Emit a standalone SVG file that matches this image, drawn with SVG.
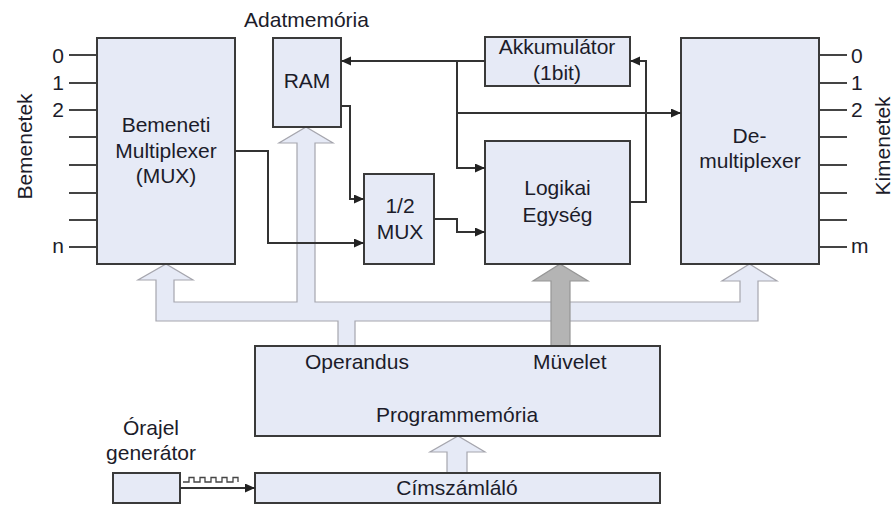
<svg xmlns="http://www.w3.org/2000/svg" width="895" height="505" viewBox="0 0 895 505">
<defs>
<style>
.box{fill:#e6eaf6;stroke:#3a3a3a;stroke-width:2}
.t{font-family:"Liberation Sans",Arial,sans-serif;font-size:21px;fill:#1c1c2a}
.c{text-anchor:middle}
.w{fill:none;stroke:#333;stroke-width:2}
.pin{stroke:#444;stroke-width:2}
.bus{fill:#e6eaf6;stroke:#a6a6ae;stroke-width:1.2;stroke-linejoin:miter}
.dbus{fill:#b4b4b4;stroke:#969696;stroke-width:1.2}
</style>
<marker id="ah" markerUnits="userSpaceOnUse" markerWidth="11" markerHeight="10" refX="10" refY="4.5" orient="auto">
<path d="M0,0 L10,4.5 L0,9 z" fill="#222"/>
</marker>
</defs>
<rect width="895" height="505" fill="#fff"/>

<g id="buses">
<path class="bus" d="M156,321 L156,280 L138,280 L166,264 L193,280 L174,280 L174,302 L297,302 L297,143 L279,143 L306,127 L333,143 L315,143 L315,302 L740,302 L740,281 L722,281 L749.5,264 L777,281 L758,281 L758,321 L355,321 L355,346 L338,346 L338,321 Z"/>
<path class="dbus" d="M551,346 L551,281 L533,281 L560,264 L588,281 L570,281 L570,346 Z"/>
<path class="bus" d="M447,473 L447,452 L430,452 L458,436 L485,452 L467,452 L467,473 Z"/>
</g>

<g id="bemeneti">
<g class="pin">
<line x1="69" y1="55" x2="97" y2="55"/>
<line x1="69" y1="83" x2="97" y2="83"/>
<line x1="69" y1="110" x2="97" y2="110"/>
<line x1="69" y1="137" x2="97" y2="137"/>
<line x1="69" y1="165" x2="97" y2="165"/>
<line x1="69" y1="193" x2="97" y2="193"/>
<line x1="69" y1="220" x2="97" y2="220"/>
<line x1="69" y1="247" x2="97" y2="247"/>
</g>
<rect class="box" x="97" y="38" width="138" height="226"/>
<text class="t c" x="166" y="132">Bemeneti</text>
<text class="t c" x="166" y="157.5">Multiplexer</text>
<text class="t c" x="166" y="183">(MUX)</text>
<text class="t" x="64" y="63" text-anchor="end">0</text>
<text class="t" x="64" y="90" text-anchor="end">1</text>
<text class="t" x="64" y="117" text-anchor="end">2</text>
<text class="t" x="64" y="253" text-anchor="end">n</text>
<text class="t c" transform="translate(32,146.5) rotate(-90)">Bemenetek</text>
</g>

<g id="ram">
<rect class="box" x="273" y="38" width="68" height="89"/>
<text class="t c" x="307" y="88">RAM</text>
<text class="t c" x="306.5" y="27">Adatmemória</text>
</g>

<g id="mux2">
<rect class="box" x="364" y="174" width="70" height="90"/>
<text class="t c" x="400" y="213">1/2</text>
<text class="t c" x="400" y="239">MUX</text>
</g>

<g id="akkumulator">
<rect class="box" x="485" y="37" width="145" height="49"/>
<text class="t c" x="557" y="54">Akkumulátor</text>
<text class="t c" x="557" y="80">(1bit)</text>
</g>

<g id="logikai">
<rect class="box" x="485" y="141" width="145" height="123"/>
<text class="t c" x="557.5" y="195">Logikai</text>
<text class="t c" x="557.5" y="222">Egység</text>
</g>

<g id="demux">
<g class="pin">
<line x1="819" y1="55" x2="847" y2="55"/>
<line x1="819" y1="83" x2="847" y2="83"/>
<line x1="819" y1="110" x2="847" y2="110"/>
<line x1="819" y1="137" x2="847" y2="137"/>
<line x1="819" y1="165" x2="847" y2="165"/>
<line x1="819" y1="193" x2="847" y2="193"/>
<line x1="819" y1="220" x2="847" y2="220"/>
<line x1="819" y1="247" x2="847" y2="247"/>
</g>
<rect class="box" x="681" y="38" width="138" height="226"/>
<text class="t c" x="749.5" y="143">De-</text>
<text class="t c" x="750" y="168">multiplexer</text>
<text class="t" x="851" y="63">0</text>
<text class="t" x="851" y="90">1</text>
<text class="t" x="851" y="117">2</text>
<text class="t" x="851" y="253">m</text>
<text class="t c" transform="translate(890,146) rotate(-90)">Kimenetek</text>
</g>

<g id="programmemoria">
<rect class="box" x="255" y="346" width="405" height="90"/>
<text class="t" x="305" y="369">Operandus</text>
<text class="t" x="533" y="369">Müvelet</text>
<text class="t c" x="457" y="422">Programmemória</text>
</g>

<g id="cimszamlalo">
<rect class="box" x="255" y="473" width="405" height="30"/>
<text class="t c" x="457" y="495">Címszámláló</text>
</g>

<g id="orajel">
<rect class="box" x="113" y="473" width="67" height="30"/>
<text class="t c" x="151" y="435">Órajel</text>
<text class="t c" x="151" y="460">generátor</text>
</g>

<g id="connectors">
<polyline class="w" points="485,61 341,61" marker-end="url(#ah)"/>
<polyline class="w" points="457,61 457,168 485,168" marker-end="url(#ah)"/>
<polyline class="w" points="457,113 681,113" marker-end="url(#ah)"/>
<polyline class="w" points="630,202 646,202 646,61 630,61" marker-end="url(#ah)"/>
<polyline class="w" points="341,106 350,106 350,199 364,199" marker-end="url(#ah)"/>
<polyline class="w" points="235,151 268,151 268,243 364,243" marker-end="url(#ah)"/>
<polyline class="w" points="434,219 457,219 457,232 485,232" marker-end="url(#ah)"/>
<polyline class="w" points="180,488 255,488" marker-end="url(#ah)" style="stroke-width:1.8"/>
<polyline points="183,482 189,482 189,477.5 194,477.5 194,482 200,482 200,477.5 205,477.5 205,482 211,482 211,477.5 216,477.5 216,482 222,482 222,477.5 227,477.5 227,482 233,482 233,477.5 238,477.5 238,482" fill="none" stroke="#444" stroke-width="1.3"/>
</g>
</svg>
